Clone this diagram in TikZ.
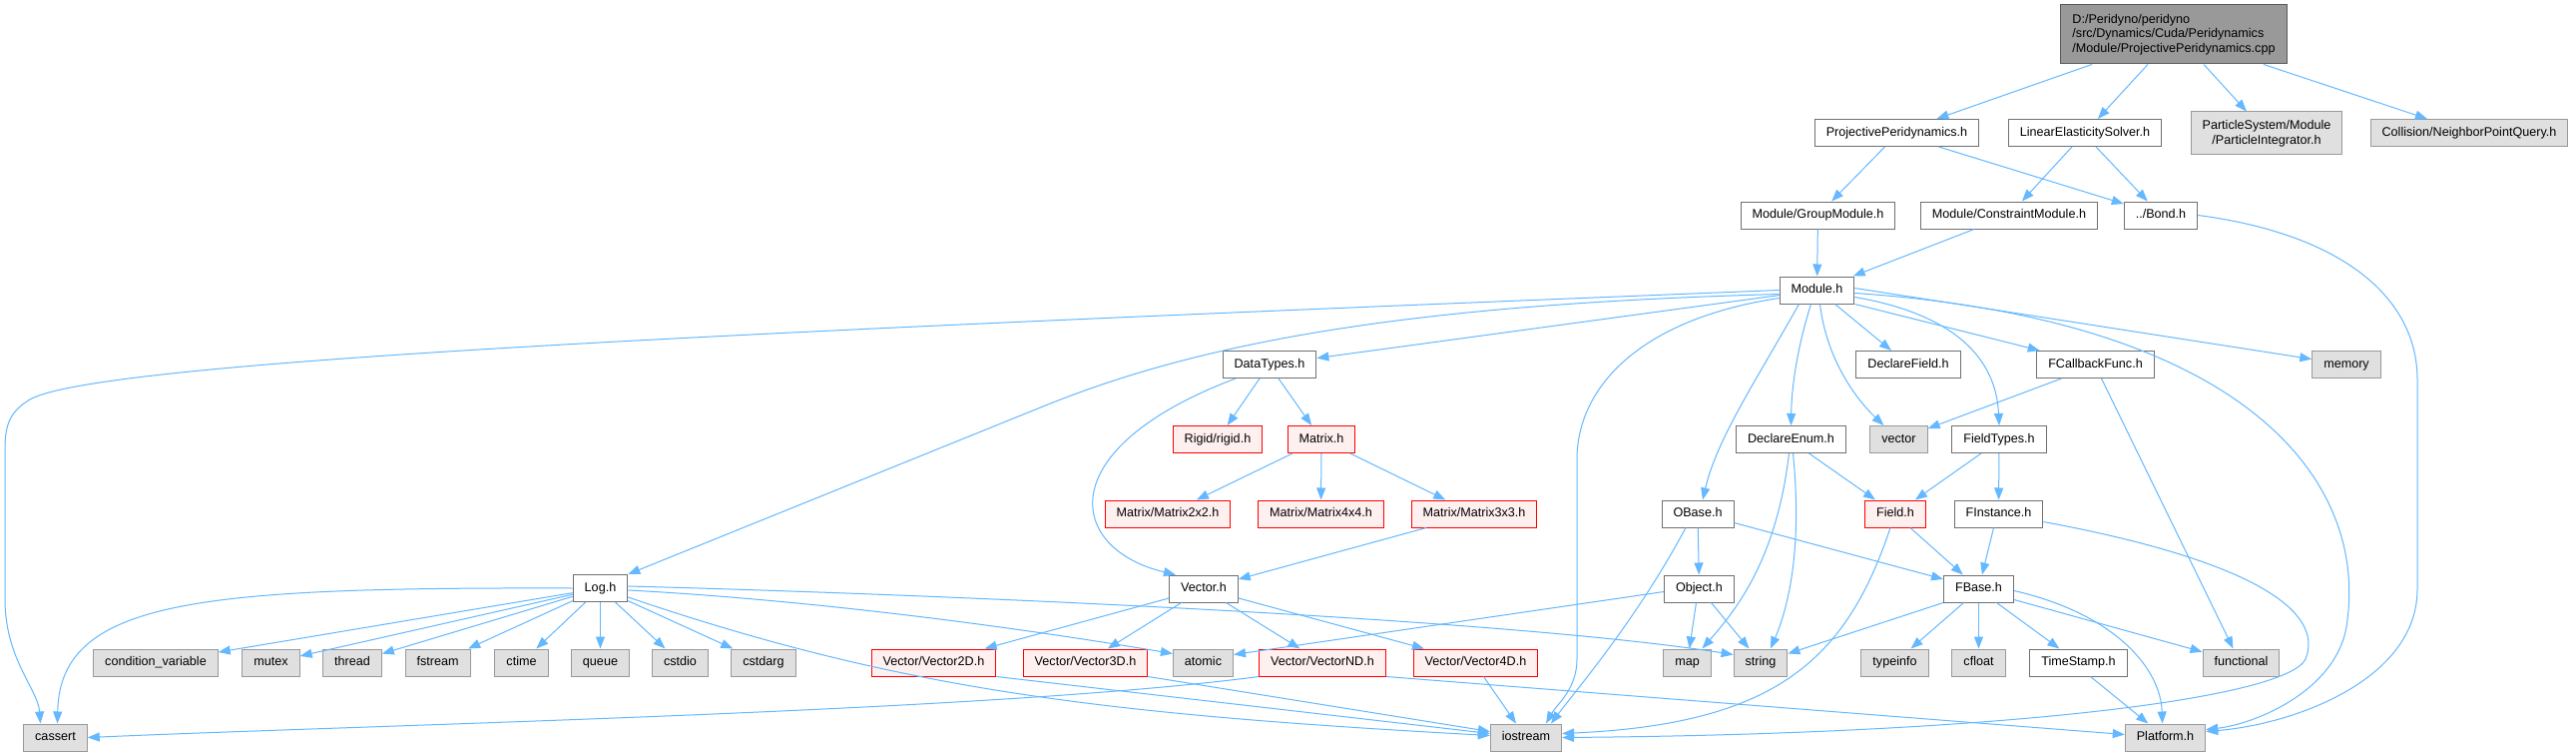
\documentclass[tikz,border=0pt]{standalone}
\usepackage{fontspec}
\setmainfont{Liberation Sans}
\usepackage{tikz}
\usetikzlibrary{arrows.meta}
\definecolor{edgeblue}{HTML}{63B8FF}
\definecolor{boxgrey}{HTML}{707070}
\definecolor{leafline}{HTML}{999999}
\definecolor{leaffill}{HTML}{E0E0E0}
\definecolor{rootfill}{HTML}{999999}
\definecolor{truncfill}{HTML}{FFF0F0}
\newcommand{\dxfont}{\fontsize{12.6}{14.5}\selectfont}

\begin{document}
\begin{tikzpicture}[x=1pt, y=-1pt,
    >={Triangle[length=12pt, width=9pt]},
    hdr/.style={draw=boxgrey, line width=1pt, fill=white, font=\dxfont, inner xsep=11.5pt, inner ysep=0pt, minimum height=27pt, text height=9.5pt, text depth=3pt},
    sys/.style={hdr, draw=leafline, fill=leaffill},
    trunc/.style={hdr, draw=red, fill=truncfill},
    rootbox/.style={hdr, fill=rootfill, draw=boxgrey!80!black, align=left, minimum height=59pt, text height=, text depth=},
    incl/.style={->, edgeblue, line width=1pt},
]
    \path[fill=white] (0,0) rectangle (2581,757);

    % top levels
    \node[rootbox] (root) at (2178,34.5) {D:/Peridyno/peridyno\\/src/Dynamics/Cuda/Peridynamics\\/Module/ProjectivePeridynamics.cpp};
    \node[hdr] (pph) at (1900.5,133) {ProjectivePeridynamics.h};
    \node[hdr] (les) at (2089,133) {LinearElasticitySolver.h};
    \node[sys, align=center, minimum height=43pt, text height=, text depth=] (pint) at (2271,133.5) {ParticleSystem/Module\\/ParticleIntegrator.h};
    \node[sys] (nbq) at (2474,133) {Collision/NeighborPointQuery.h};
    \node[hdr] (grp) at (1821.5,215.5) {Module/GroupModule.h};
    \node[hdr] (cons) at (2013,215.5) {Module/ConstraintModule.h};
    \node[hdr] (bond) at (2165,215.5) {../Bond.h};
    \node[hdr] (module) at (1820.5,290.5) {Module.h};

    % Module.h children
    \node[hdr] (dtypes) at (1272,365) {DataTypes.h};
    \node[hdr] (dfield) at (1912,365) {DeclareField.h};
    \node[hdr] (fcb) at (2099.5,365) {FCallbackFunc.h};
    \node[sys] (memory) at (2351,365) {memory};
    \node[trunc] (rigid) at (1220,440) {Rigid/rigid.h};
    \node[trunc] (matrix) at (1324,440) {Matrix.h};
    \node[hdr] (denum) at (1794.5,440) {DeclareEnum.h};
    \node[sys] (stdvector) at (1902.5,440) {vector};
    \node[hdr] (ftypes) at (2003,440) {FieldTypes.h};
    \node[trunc] (mat22) at (1170,514.5) {Matrix/Matrix2x2.h};
    \node[trunc] (mat44) at (1323.5,514.5) {Matrix/Matrix4x4.h};
    \node[trunc] (mat33) at (1477,514.5) {Matrix/Matrix3x3.h};
    \node[hdr] (obase) at (1701,514.5) {OBase.h};
    \node[trunc] (field) at (1899,514.5) {Field.h};
    \node[hdr] (finst) at (2002.5,514.5) {FInstance.h};
    \node[hdr] (log) at (601.5,589) {Log.h};
    \node[hdr] (vech) at (1206,589.5) {Vector.h};
    \node[hdr] (object) at (1702.5,589.5) {Object.h};
    \node[hdr] (fbase) at (1982.5,589.5) {FBase.h};

    % second lowest row
    \node[sys] (condvar) at (156,663.5) {condition\_variable};
    \node[sys] (mutex) at (271.5,663.5) {mutex};
    \node[sys] (thread) at (353,663.5) {thread};
    \node[sys] (fstream) at (438.5,663.5) {fstream};
    \node[sys] (ctime) at (522.5,663.5) {ctime};
    \node[sys] (queue) at (601.5,663.5) {queue};
    \node[sys] (cstdio) at (681.5,663.5) {cstdio};
    \node[sys] (cstdarg) at (765,663.5) {cstdarg};
    \node[trunc] (vec2) at (935.5,663.5) {Vector/Vector2D.h};
    \node[trunc] (vec3) at (1087.5,663.5) {Vector/Vector3D.h};
    \node[sys] (atomic) at (1205.5,663.5) {atomic};
    \node[trunc] (vecn) at (1325,663.5) {Vector/VectorND.h};
    \node[trunc] (vec4) at (1478.5,663.5) {Vector/Vector4D.h};
    \node[sys] (map) at (1690.5,663.5) {map};
    \node[sys] (string) at (1764,663.5) {string};
    \node[sys] (typeinfo) at (1898.5,663.5) {typeinfo};
    \node[sys] (cfloat) at (1982.5,663.5) {cfloat};
    \node[hdr] (tstamp) at (2082.5,663.5) {TimeStamp.h};
    \node[sys] (functional) at (2245.5,663.5) {functional};

    % bottom row
    \node[sys] (cassert) at (55.5,738.5) {cassert};
    \node[sys] (iostream) at (1529,738.5) {iostream};
    \node[sys] (platform) at (2169.5,738.5) {Platform.h};

    % root includes
    \draw[incl] ([xshift=-82pt]root.south) -- (pph);
    \draw[incl] ([xshift=-26pt]root.south) -- (les);
    \draw[incl] ([xshift=30pt]root.south) -- (pint);
    \draw[incl] ([xshift=90pt]root.south) -- (nbq);
    \draw[incl] ([xshift=-12pt]pph.south) -- (grp);
    \draw[incl] ([xshift=42pt]pph.south) -- (bond);
    \draw[incl] ([xshift=-13pt]les.south) -- (cons);
    \draw[incl] ([xshift=11pt]les.south) -- (bond);
    \draw[incl] (grp) -- (module);
    \draw[incl] ([xshift=-35pt]cons.south) -- (module);
    \draw[incl] (bond.east) .. controls (2350,235) and (2422,300) .. (2422,380) -- (2422,590)
        .. controls (2422,680) and (2300,725) .. ([yshift=6pt]platform.east);

    % Module.h
    \draw[incl] (module.west) .. controls (800,330) and (100,360) .. (30,400)
        .. controls (10,412) and (5,425) .. (5,450) -- (5,600)
        .. controls (5,660) and (38,690) .. ([xshift=-15pt]cassert.north);
    \draw[incl] ([yshift=-4pt]module.west) .. controls (1400,305) and (1200,345) .. (1050,405) -- (log.north east);
    \draw[incl] (module) -- (dtypes);
    \draw[incl] ([yshift=-8pt]module.west) .. controls (1640,320) and (1580,390) .. (1580,460) -- (1580,660)
        .. controls (1580,690) and (1560,705) .. ([xshift=20pt]iostream.north);
    \draw[incl] ([xshift=-18pt]module.south) .. controls (1760,380) and (1720,440) .. ([xshift=5pt]obase.north);
    \draw[incl] ([xshift=-6pt]module.south) .. controls (1800,350) and (1795,390) .. (denum.north);
    \draw[incl] ([xshift=3pt]module.south) .. controls (1830,360) and (1860,400) .. ([xshift=-15pt]stdvector.north);
    \draw[incl] ([xshift=18pt]module.south) -- (dfield);
    \draw[incl] ([yshift=-7pt]module.east) .. controls (1960,315) and (2000,360) .. (ftypes.north);
    \draw[incl] (module.south east) -- (fcb);
    \draw[incl] ([yshift=2pt]module.east) -- (memory);
    \draw[incl] ([yshift=-3pt]module.east) .. controls (2250,320) and (2370,480) .. (2352,620)
        .. controls (2346,690) and (2260,725) .. ([yshift=8pt]platform.east);

    % DataTypes.h, Matrix.h, Vector.h
    \draw[incl] ([xshift=-10pt]dtypes.south) -- (rigid);
    \draw[incl] ([xshift=9pt]dtypes.south) -- (matrix);
    \draw[incl] ([xshift=-34pt]dtypes.south) .. controls (1050,450) and (1070,550) .. ([xshift=-28pt]vech.north);
    \draw[incl] (matrix) -- (mat22);
    \draw[incl] (matrix) -- (mat44);
    \draw[incl] (matrix) -- (mat33);
    \draw[incl] ([xshift=-48pt]mat33.south) -- (vech);
    \draw[incl] (vech) -- (vec2);
    \draw[incl] (vech) -- (vec3);
    \draw[incl] (vech) -- (vecn);
    \draw[incl] (vech) -- (vec4);
    \draw[incl] (vec2.south east) -- ([yshift=4pt]iostream.west);
    \draw[incl] (vec3.south east) -- ([yshift=6pt]iostream.west);
    \draw[incl] ([xshift=8pt]vec4.south) -- ([xshift=-10pt]iostream.north);
    \draw[incl] (vecn.south west) .. controls (1000,712) and (400,725) .. (cassert.east);
    \draw[incl] (vecn.south east) -- ([yshift=3pt]platform.west);

    % Log.h
    \draw[incl] (log.west) .. controls (200,588) and (60,600) .. ([xshift=2pt]cassert.north);
    \draw[incl] (log) -- (condvar);
    \draw[incl] (log) -- (mutex);
    \draw[incl] (log) -- (thread);
    \draw[incl] (log) -- (fstream);
    \draw[incl] (log) -- (ctime);
    \draw[incl] (log) -- (queue);
    \draw[incl] (log) -- (cstdio);
    \draw[incl] (log) -- (cstdarg);
    \draw[incl] ([yshift=2pt]log.east) .. controls (900,594) and (1500,618) .. ([yshift=8pt]string.west);
    \draw[incl] ([yshift=-2pt]log.east) .. controls (800,600) and (1000,625) .. ([yshift=9pt]atomic.west);
    \draw[incl] ([yshift=-9pt]log.east) .. controls (900,690) and (1100,715) .. ([yshift=2pt]iostream.west);

    % OBase.h, Object.h
    \draw[incl] (obase) -- (object);
    \draw[incl] ([xshift=-12pt]obase.south) .. controls (1640,620) and (1580,690) .. ([xshift=25pt]iostream.north);
    \draw[incl] ([yshift=-9pt]obase.east) -- (fbase);
    \draw[incl] ([yshift=-3pt]object.west) -- ([yshift=8pt]atomic.east);
    \draw[incl] ([xshift=-3pt]object.south) -- (map);
    \draw[incl] ([xshift=12pt]object.south) -- (string);

    % DeclareEnum.h, FieldTypes.h, FCallbackFunc.h
    \draw[incl] ([xshift=18pt]denum.south) -- (field);
    \draw[incl] ([xshift=-2pt]denum.south) .. controls (1780,560) and (1740,610) .. ([xshift=15pt]map.north);
    \draw[incl] ([xshift=2pt]denum.south) .. controls (1805,540) and (1795,600) .. ([xshift=10pt]string.north);
    \draw[incl] ([xshift=-18pt]ftypes.south) -- (field);
    \draw[incl] (ftypes) -- (finst);
    \draw[incl] ([xshift=-34pt]fcb.south) -- (stdvector);
    \draw[incl] ([xshift=6pt]fcb.south) -- ([xshift=-8pt]functional.north);

    % Field.h, FInstance.h
    \draw[incl] ([xshift=15pt]field.south) -- (fbase);
    \draw[incl] ([xshift=-5pt]field.south) .. controls (1850,660) and (1780,725) .. ([yshift=4pt]iostream.east);
    \draw[incl] ([xshift=-5pt]finst.south) -- (fbase);
    \draw[incl] ([yshift=-8pt]finst.east) .. controls (2250,560) and (2330,610) .. (2310,660)
        .. controls (2290,700) and (2000,735) .. (iostream.east);

    % FBase.h
    \draw[incl] (fbase.south west) -- (string);
    \draw[incl] ([xshift=-15pt]fbase.south) -- (typeinfo);
    \draw[incl] (fbase) -- (cfloat);
    \draw[incl] ([xshift=18pt]fbase.south) -- (tstamp);
    \draw[incl] ([yshift=-11pt]fbase.east) -- (functional);
    \draw[incl] ([yshift=-2pt]fbase.east) .. controls (2120,615) and (2165,670) .. ([xshift=-3pt]platform.north);
    \draw[incl] ([xshift=12pt]tstamp.south) -- (platform);
\end{tikzpicture}
\end{document}
